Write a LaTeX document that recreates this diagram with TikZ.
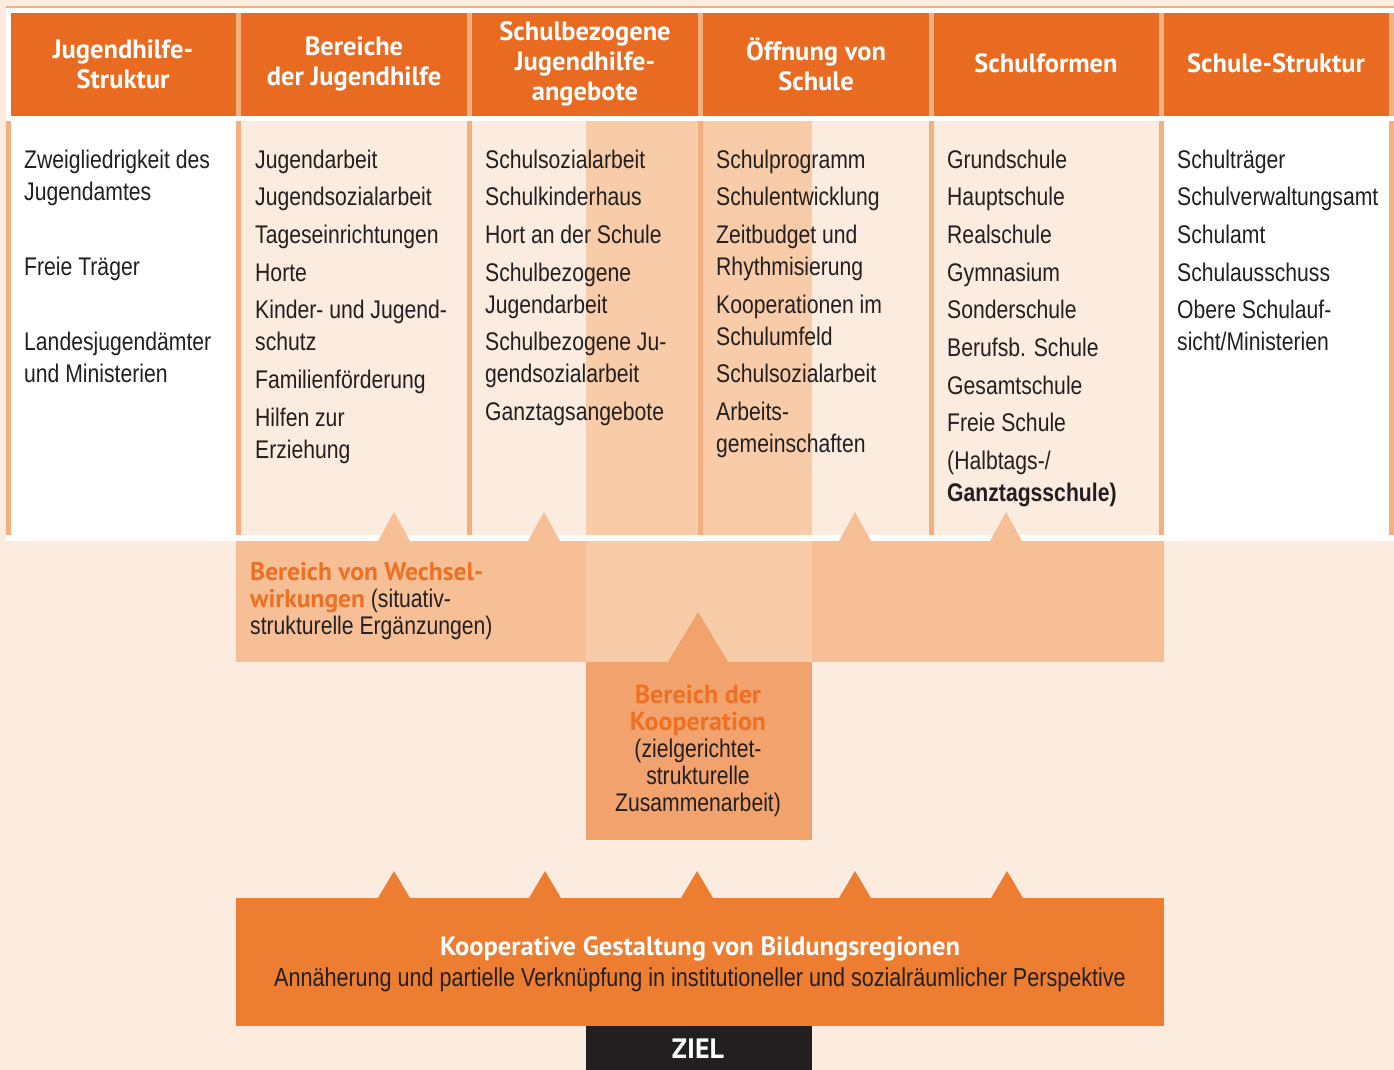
\documentclass[tikz,border=0pt]{standalone}
\usepackage{fontspec}
\newfontfamily\bodyf[FakeStretch=0.83]{Liberation Sans}
\newfontfamily\headf{PT Sans}
\definecolor{peach}{HTML}{FCEBDF}
\definecolor{hdor}{HTML}{E96B22}
\definecolor{sep}{HTML}{F5B07F}
\definecolor{dpeach}{HTML}{F8CCA9}
\definecolor{band}{HTML}{F7BF96}
\definecolor{koop}{HTML}{F2A36D}
\definecolor{botor}{HTML}{ED7D31}
\definecolor{txt}{HTML}{231F20}
\definecolor{ortxt}{HTML}{EE7023}
\tikzset{
  body/.style={font=\bodyf\fontsize{25.5}{32}\selectfont, text=txt, inner sep=0pt, anchor=base west},
  head/.style={font=\headf\bfseries\fontsize{26.5}{30}\selectfont, text=white, align=center, inner sep=0pt},
  midtext/.style={font=\bodyf\fontsize{25.5}{27}\selectfont, text=txt, inner sep=0pt},
}
\newcommand\bline[4]{\node[body] (#1) at (#2,#3) {#4};}
\begin{document}
\begin{tikzpicture}[x=1pt,y=-1pt]
\useasboundingbox (0,0) rectangle (1394,1070);
\fill[peach] (0,0) rectangle (1394,1070);
% white table area
\fill[white] (6,8) rectangle (1394,541);
\fill[sep] (6,6.5) rectangle (1394,7.8);
% header
\fill[hdor] (11,13) rectangle (1389,116);
\foreach \xx in {236,467,698,929,1159,1389}{\fill[sep] (\xx,13) rectangle (\xx+5,116);}
% body columns
\fill[sep] (6,121) rectangle (11,535);
\fill[peach] (241,121) rectangle (467,535);
\fill[peach] (472,121) rectangle (586,535);
\fill[dpeach] (586,121) rectangle (698,535);
\fill[dpeach] (703,121) rectangle (812,535);
\fill[peach] (812,121) rectangle (929,535);
\fill[peach] (934,121) rectangle (1159,535);
\foreach \xx in {236,467,698,929,1159,1389}{\fill[sep] (\xx,121) rectangle (\xx+5,535);}
% band of interactions
\fill[band] (236,541) rectangle (1164,662);
\fill[dpeach] (586,541) rectangle (812,662);
\foreach \xx in {394,544,855,1006}{\fill[band] (\xx-16,541) -- (\xx,512) -- (\xx+16,541) -- cycle;}
% cooperation box
\fill[koop] (586,662) rectangle (812,840);
\fill[koop] (668,662) -- (698,612) -- (728,662) -- cycle;
% bottom box
\fill[botor] (236,898) rectangle (1164,1026);
\foreach \xx in {394,545,697,855,1007}{\fill[botor] (\xx-16,898) -- (\xx,871) -- (\xx+16,898) -- cycle;}
\fill[txt] (586,1026) rectangle (812,1070);
% headers
\node[head] (h1) at (123,64) {Jugendhilfe-\\Struktur};
\node[head] (h2) at (354,64) {Bereiche\\der Jugendhilfe};
\node[head] (h3) at (585,64) {Schulbezogene\\Jugendhilfe-\\angebote};
\node[head] (h4) at (816,64) {Öffnung von\\Schule};
\node[head] (h5) at (1046,63) {Schulformen};
\node[head] (h6) at (1276,63) {Schule-Struktur};
% column 1
\bline{a1}{24}{168}{Zweigliedrigkeit des}
\bline{a2}{24}{200}{Jugendamtes}
\bline{a3}{24}{275}{Freie Träger}
\bline{a4}{24}{350}{Landesjugendämter}
\bline{a5}{24}{382}{und Ministerien}
% column 2
\bline{b1}{255}{168}{Jugendarbeit}
\bline{b2}{255}{205}{Jugendsozialarbeit}
\bline{b3}{255}{243}{Tageseinrichtungen}
\bline{b4}{255}{281}{Horte}
\bline{b5}{255}{318}{Kinder- und Jugend-}
\bline{b6}{255}{350}{schutz}
\bline{b7}{255}{388}{Familienförderung}
\bline{b8}{255}{426}{Hilfen zur}
\bline{b9}{255}{458}{Erziehung}
% column 3
\bline{c1}{485}{168}{Schulsozialarbeit}
\bline{c2}{485}{205}{Schulkinderhaus}
\bline{c3}{485}{243}{Hort an der Schule}
\bline{c4}{485}{281}{Schulbezogene}
\bline{c5}{485}{313}{Jugendarbeit}
\bline{c6}{485}{350}{Schulbezogene Ju-}
\bline{c7}{485}{382}{gendsozialarbeit}
\bline{c8}{485}{420}{Ganztagsangebote}
% column 4
\bline{d1}{716}{168}{Schulprogramm}
\bline{d2}{716}{205}{Schulentwicklung}
\bline{d3}{716}{243}{Zeitbudget und}
\bline{d4}{716}{275}{Rhythmisierung}
\bline{d5}{716}{313}{Kooperationen im}
\bline{d6}{716}{345}{Schulumfeld}
\bline{d7}{716}{382}{Schulsozialarbeit}
\bline{d8}{716}{420}{Arbeits-}
\bline{d9}{716}{452}{gemeinschaften}
% column 5
\bline{e1}{947}{168}{Grundschule}
\bline{e2}{947}{205}{Hauptschule}
\bline{e3}{947}{243}{Realschule}
\bline{e4}{947}{281}{Gymnasium}
\bline{e5}{947}{318}{Sonderschule}
\bline{e6}{947}{356}{Berufsb. Schule}
\bline{e7}{947}{394}{Gesamtschule}
\bline{e8}{947}{431}{Freie Schule}
\bline{e9}{947}{469}{(Halbtags-/}
\bline{e10}{947}{501}{\bfseries Ganztagsschule)}
% column 6
\bline{f1}{1177}{168}{Schulträger}
\bline{f2}{1177}{205}{Schulverwaltungsamt}
\bline{f3}{1177}{243}{Schulamt}
\bline{f4}{1177}{281}{Schulausschuss}
\bline{f5}{1177}{318}{Obere Schulauf-}
\bline{f6}{1177}{350}{sicht/Ministerien}
% band text
\node[midtext, align=left, anchor=west] (wech) at (250,601)
  {\textcolor{ortxt}{\headf\bfseries Bereich von Wechsel-}\\
   \textcolor{ortxt}{\headf\bfseries wirkungen} (situativ-\\
   strukturelle Ergänzungen)};
% cooperation text
\node[midtext, align=center] (koopt) at (698,751)
  {\textcolor{ortxt}{\headf\bfseries\fontsize{26}{27}\selectfont Bereich der}\\
   \textcolor{ortxt}{\headf\bfseries\fontsize{26}{27}\selectfont Kooperation}\\
   (zielgerichtet-\\strukturelle\\Zusammenarbeit)};
% bottom text
\node[midtext, align=center, font=\bodyf\fontsize{26}{31}\selectfont] (ziel1) at (700,964)
  {\textcolor{white}{\headf\bfseries\fontsize{26.5}{31}\selectfont Kooperative Gestaltung von Bildungsregionen}\\
   Annäherung und partielle Verknüpfung in institutioneller und sozialräumlicher Perspektive};
\node[font=\headf\bfseries\fontsize{28}{30}\selectfont, text=white, inner sep=0pt] (ziel) at (698,1049) {ZIEL};
\end{tikzpicture}
\end{document}
